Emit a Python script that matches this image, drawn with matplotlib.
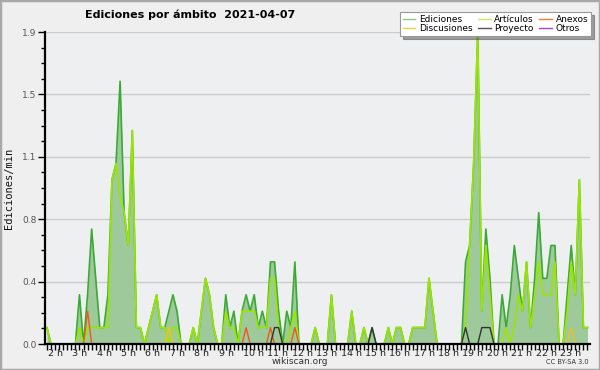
import numpy as np
import matplotlib.pyplot as plt
from matplotlib.lines import Line2D
from matplotlib.patches import Rectangle

# === 1. Datos: ediciones/min en intervalos de 10 minutos desde las 2 h ===
ediciones = [
    0.1, 0, 0, 0, 0, 0, 0, 0, 0.3, 0, 0.3, 0.7, 0.4, 0.1, 0.1, 0.3, 1.0, 1.1, 1.6, 0.8,
    0.6, 1.3, 0.1, 0.1, 0, 0.1, 0.2, 0.3, 0.1, 0.1, 0.2, 0.3, 0.2, 0, 0, 0, 0.1, 0, 0.2, 0.4,
    0.3, 0.1, 0, 0, 0.3, 0.1, 0.2, 0, 0.2, 0.3, 0.2, 0.3, 0.1, 0.2, 0.1, 0.5, 0.5, 0.2, 0, 0.2,
    0.1, 0.5, 0, 0, 0, 0, 0.1, 0, 0, 0, 0.3, 0, 0, 0, 0, 0.2, 0, 0, 0.1, 0,
    0.1, 0, 0, 0, 0.1, 0, 0.1, 0.1, 0, 0, 0.1, 0.1, 0.1, 0.1, 0.4, 0.2, 0, 0, 0, 0,
    0, 0, 0, 0.5, 0.6, 1.1, 1.9, 0.2, 0.7, 0.4, 0, 0, 0.3, 0.1, 0.3, 0.6, 0.4, 0.2, 0.5, 0.1,
    0.4, 0.8, 0.4, 0.4, 0.6, 0.6, 0, 0, 0.3, 0.6, 0.3, 1.0, 0.1, 0.1,
]
articulos = [
    0.1, 0, 0, 0, 0, 0, 0, 0, 0.1, 0, 0.1, 0.1, 0.1, 0.1, 0.1, 0.1, 1.0, 1.1, 0.9, 0.8,
    0.6, 1.3, 0.1, 0.1, 0, 0.1, 0.2, 0.3, 0.1, 0.1, 0, 0.1, 0.1, 0, 0, 0, 0.1, 0, 0.2, 0.4,
    0.3, 0.1, 0, 0, 0.2, 0.1, 0.1, 0, 0.2, 0.2, 0.2, 0.2, 0.1, 0.1, 0.1, 0.4, 0.4, 0.1, 0, 0,
    0.1, 0.2, 0, 0, 0, 0, 0.1, 0, 0, 0, 0.3, 0, 0, 0, 0, 0.2, 0, 0, 0.1, 0,
    0, 0, 0, 0, 0.1, 0, 0.1, 0.1, 0, 0, 0.1, 0.1, 0.1, 0.1, 0.4, 0.2, 0, 0, 0, 0,
    0, 0, 0, 0.1, 0.6, 1.1, 1.9, 0.2, 0.6, 0.3, 0, 0, 0, 0.1, 0, 0.1, 0.3, 0.2, 0.5, 0.1,
    0.3, 0.5, 0.3, 0.3, 0.3, 0.5, 0, 0, 0.2, 0.5, 0.3, 1.0, 0.1, 0.1,
]
anexos_bins = [10, 49, 55, 61]
anexos_vals = [0.2, 0.1, 0.1, 0.1]
discusiones_bins = [30, 129]
discusiones_vals = [0.1, 0.1]
proyecto_bins = [56, 57, 80, 103, 107, 108, 109]
proyecto_vals = [0.1, 0.1, 0.1, 0.1, 0.1, 0.1, 0.1]

horas = list(range(2, 24))
yticks = [0, 0.38, 0.76, 1.14, 1.52, 1.9]
ylabels = ["0.0", "0.4", "0.8", "1.1", "1.5", "1.9"]

# === 2. Preparar series ===
n = len(ediciones)
t = 2 + np.arange(n) / 6


def serie(bins, vals):
    s = np.zeros(n)
    s[bins] = vals
    return s


anexos = serie(anexos_bins, anexos_vals)
discusiones = serie(discusiones_bins, discusiones_vals)
proyecto = serie(proyecto_bins, proyecto_vals)

# === 3. Figura ===
bg = "#efefef"
fig = plt.figure(figsize=(6, 3.7), dpi=100, facecolor=bg)
fig.patches.append(Rectangle((0, 0), 1, 1, transform=fig.transFigure,
                             fill=False, edgecolor="#a8a8a8", lw=2.5))
ax = fig.add_axes([45 / 600, 26 / 370, 545 / 600, 312 / 370])
ax.set_facecolor("#eeeff1")

for y in yticks[1:]:
    ax.axhline(y, color="#cccccc", lw=1, zorder=0.5)

ax.fill_between(t, ediciones, color="#9dc99b", lw=0, zorder=1)
ax.plot(t, ediciones, color="#3aaa35", lw=1.2, zorder=1.5)
ax.plot(t, articulos, color="#9be600", lw=1.2, zorder=1.6)
ax.plot(t, anexos, color="#ee5a1a", lw=1.0, zorder=1.7)
ax.plot(t, discusiones, color="#f0c020", lw=1.0, zorder=1.7)
ax.plot(t, proyecto, color="#333333", lw=1.0, zorder=1.8)

ax.set_xlim(1.92, 24.27)
ax.set_ylim(0, 1.9)

for s in ["top", "right"]:
    ax.spines[s].set_visible(False)
for s in ["left", "bottom"]:
    ax.spines[s].set_linewidth(1.6)
    ax.spines[s].set_zorder(3)

ax.set_yticks(yticks)
ax.set_yticklabels(ylabels)
ax.set_yticks(np.arange(0, 1.9, 0.095), minor=True)
ax.tick_params(axis="y", which="major", length=5, width=1, labelsize=6.5,
               labelcolor="#555555", pad=1)
ax.tick_params(axis="y", which="minor", length=3, width=1)

ax.set_xticks(horas)
ax.set_xticklabels([])
ax.set_xticks(np.arange(2, 24.2, 1 / 6), minor=True)
ax.tick_params(axis="x", which="both", length=4, width=1)
for h in horas:
    ax.text(h + 0.04, -4.5 / 312, f"{h} h", transform=ax.get_xaxis_transform(),
            ha="left", va="top", fontsize=6.8, color="#222222")

ax.set_ylabel("Ediciones/min", family="DejaVu Sans Mono", fontsize=7.5,
              labelpad=6, color="#111111")

fig.text(85 / 600, 1 - 15 / 370, "Ediciones por ámbito  2021-04-07",
         ha="left", va="center", fontsize=8, weight="bold")
fig.text(300 / 600, 1 - 362 / 370, "wikiscan.org", ha="center", va="center",
         fontsize=6.5, color="#333333")
fig.text(589 / 600, 1 - 362 / 370, "CC BY-SA 3.0", ha="right", va="center",
         fontsize=4.8, color="#333333")

# === 4. Leyenda ===
nombres = ["Ediciones", "Discusiones", "Artículos", "Proyecto", "Anexos", "Otros"]
colores = ["#88cc88", "#f5d040", "#ccee55", "#555555", "#f07a45", "#9944ee"]
handles = [Line2D([], [], color=c, lw=1) for c in colores]
leg = fig.legend(handles, nombres, ncol=3, loc="upper right",
                 bbox_to_anchor=(591 / 600, 1 - 12 / 370), fontsize=6.5,
                 frameon=True, fancybox=False, shadow=True, handlelength=1.4,
                 columnspacing=0.6, labelspacing=0.05, borderpad=0.3,
                 handletextpad=0.4, borderaxespad=0)
leg.get_frame().set_edgecolor("#999999")
leg.get_frame().set_linewidth(0.8)
leg.set_zorder(5)

plt.savefig("out.png", dpi=100, facecolor=bg)
plt.close()
